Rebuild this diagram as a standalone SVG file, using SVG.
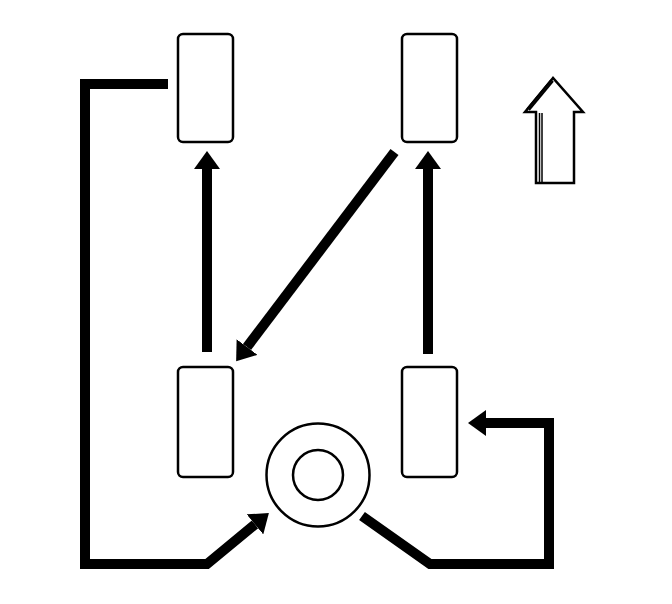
<svg xmlns="http://www.w3.org/2000/svg" width="672" height="604" viewBox="0 0 672 604">
<style>
.tire{fill:#fff;stroke:#000;stroke-width:2.5}
.con{fill:none;stroke:#000;stroke-width:10;stroke-linejoin:miter;stroke-linecap:butt}
</style>
<defs>
<marker id="ah" markerUnits="userSpaceOnUse" viewBox="0 0 18 26" refX="0" refY="13" markerWidth="18" markerHeight="26" orient="auto">
<path d="M0,0 L18,13 L0,26 z" fill="#000"/>
</marker>
</defs>
<rect width="672" height="604" fill="#fff"/>
<g id="tire-front-left"><rect class="tire" x="178" y="34" width="55" height="108" rx="5"/></g>
<g id="tire-front-right"><rect class="tire" x="402" y="34" width="55" height="108" rx="5"/></g>
<g id="tire-rear-left"><rect class="tire" x="178" y="367" width="55" height="110" rx="5"/></g>
<g id="tire-rear-right"><rect class="tire" x="402" y="367" width="55" height="110" rx="5"/></g>
<g id="spare">
<circle cx="318" cy="475" r="51.5" fill="#fff" stroke="#000" stroke-width="2.5"/>
<circle cx="318" cy="475" r="25" fill="none" stroke="#000" stroke-width="2.5"/>
</g>
<g id="forward-arrow" fill="none" stroke="#000">
<polygon points="553,78 525,112 536,112 536,183 574,183 574,112 583,112" fill="#fff" stroke-width="2.5"/>
<line x1="539.5" y1="113" x2="539.5" y2="182" stroke-width="1.5"/>
<line x1="542" y1="113" x2="542" y2="182" stroke-width="1.5"/>
<line x1="553" y1="81" x2="529" y2="110" stroke-width="2"/>
<line x1="551" y1="80" x2="527" y2="109" stroke-width="1.5"/>
</g>
<g id="connectors">
<path class="con" d="M207,352 L207,169" marker-end="url(#ah)"/>
<path class="con" d="M428,354 L428,169" marker-end="url(#ah)"/>
<path class="con" d="M394.5,152 L247,347" marker-end="url(#ah)"/>
<path class="con" d="M168,84 L85,84 L85,564 L207,564 L255,524.4" marker-end="url(#ah)"/>
<path class="con" d="M362,516 L430,564 L549,564 L549,423 L486,423" marker-end="url(#ah)"/>
</g>
</svg>
